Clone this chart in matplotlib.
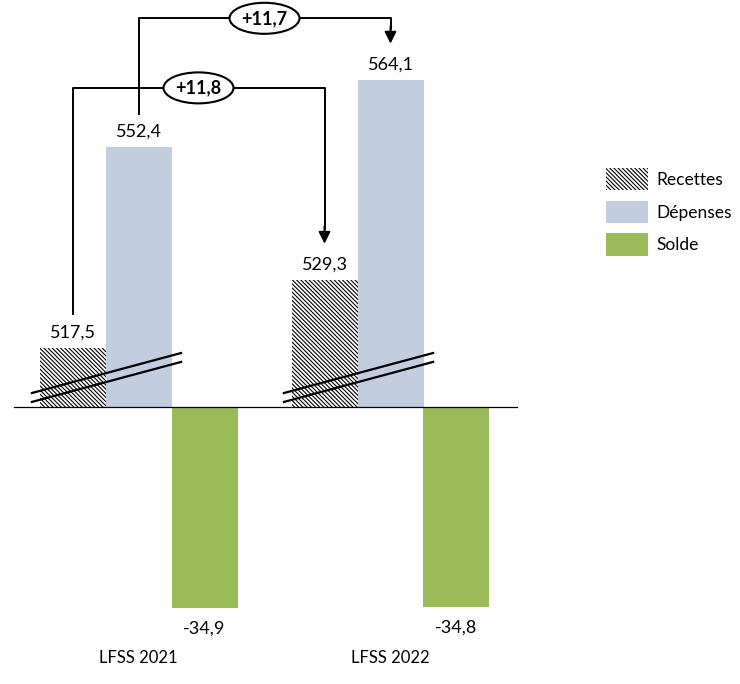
import matplotlib.pyplot as plt
from matplotlib.patches import Ellipse, Patch

plt.rcParams['font.family'] = ['Lato', 'DejaVu Sans']
plt.rcParams['hatch.linewidth'] = 0.8

groups = ["LFSS 2021", "LFSS 2022"]
recettes = [517.5, 529.3]
depenses = [552.4, 564.1]
solde = [-34.9, -34.8]
ecarts = ["+11,8", "+11,7"]
series = ["Recettes", "Dépenses", "Solde"]

# axe coupé : recettes et dépenses partent de ce plancher
floor = 507.2
blue = "#C3CDE0"
green = "#9BBB59"
hatch = "\\" * 8
fr = lambda v: f"{v:.1f}".replace(".", ",")

W, H = 740, 684
fig = plt.figure(figsize=(W / 100, H / 100), dpi=100)
ax = fig.add_axes([0, 0, 1, 1])
pxx, pxy = 252.0, 5.75          # pixels par unite (x, y)
x0, y0 = 138.5, 407.0           # position pixel de (0, 0)
ax.set_xlim(-x0 / pxx, (W - x0) / pxx)
ax.set_ylim(-(H - y0) / pxy, y0 / pxy)
ax.axis("off")

bw = 66 / pxx
xs = list(range(len(groups)))
hr = [v - floor for v in recettes]
hd = [v - floor for v in depenses]

ax.bar([x - bw for x in xs], hr, bw, color="white", edgecolor="black",
       linewidth=0, hatch=hatch)
ax.bar(xs, hd, bw, color=blue, linewidth=0)
ax.bar([x + bw for x in xs], solde, bw, color=green, linewidth=0)
ax.plot([-0.494, 1.502], [0, 0], color="black", lw=0.9)

for i, x in enumerate(xs):
    ax.text(x - bw, hr[i] + 1.3, fr(recettes[i]), ha="center", va="bottom", fontsize=13)
    ax.text(x, hd[i] + 1.3, fr(depenses[i]), ha="center", va="bottom", fontsize=13)
    ax.text(x + bw, solde[i] - 2.2, fr(solde[i]), ha="center", va="top", fontsize=13)
    ax.text(x, -43.7, groups[i], ha="center", va="center", fontsize=12)
    # traits de coupure
    for dy in (0, -1.55):
        ax.plot([x - 0.423, x + 0.169], [2.43 + dy, 9.39 + dy], color="black", lw=1.6)

# fleches d'evolution
levels = [55.5, 67.6]
for k, (h, dx) in enumerate([(hr, -bw), (hd, 0)]):
    xa, xb = xs[0] + dx, xs[1] + dx
    ya, yb = h[0] + 5.8, h[1] + 6.3
    yl = levels[k]
    ax.plot([xa, xa, xb, xb], [ya, yl, yl, yb + 2.6], color="black", lw=1.4)
    ax.annotate("", xy=(xb, yb), xytext=(xb, yb + 3.0),
                arrowprops=dict(arrowstyle="-|>,head_length=0.7,head_width=0.35",
                                color="black", lw=1.4, shrinkA=0, shrinkB=0))
    xm = (xa + xb) / 2
    ax.add_patch(Ellipse((xm, yl), 70 / pxx, 31 / pxy, facecolor="white",
                         edgecolor="black", lw=1.5, zorder=3))
    ax.text(xm, yl, ecarts[k], ha="center", va="center", fontsize=13,
            fontweight="bold", zorder=4)

handles = [Patch(facecolor="white", edgecolor="black", linewidth=0, hatch=hatch),
           Patch(facecolor=blue, linewidth=0),
           Patch(facecolor=green, linewidth=0)]
fig.legend(handles, series, loc="upper left", bbox_to_anchor=(606 / W, 1 - 168 / H),
           frameon=False, fontsize=12.5, handlelength=2.4, handleheight=1.6,
           labelspacing=0.6, handletextpad=0.5, borderpad=0, borderaxespad=0)

fig.savefig("out.png", dpi=100)
